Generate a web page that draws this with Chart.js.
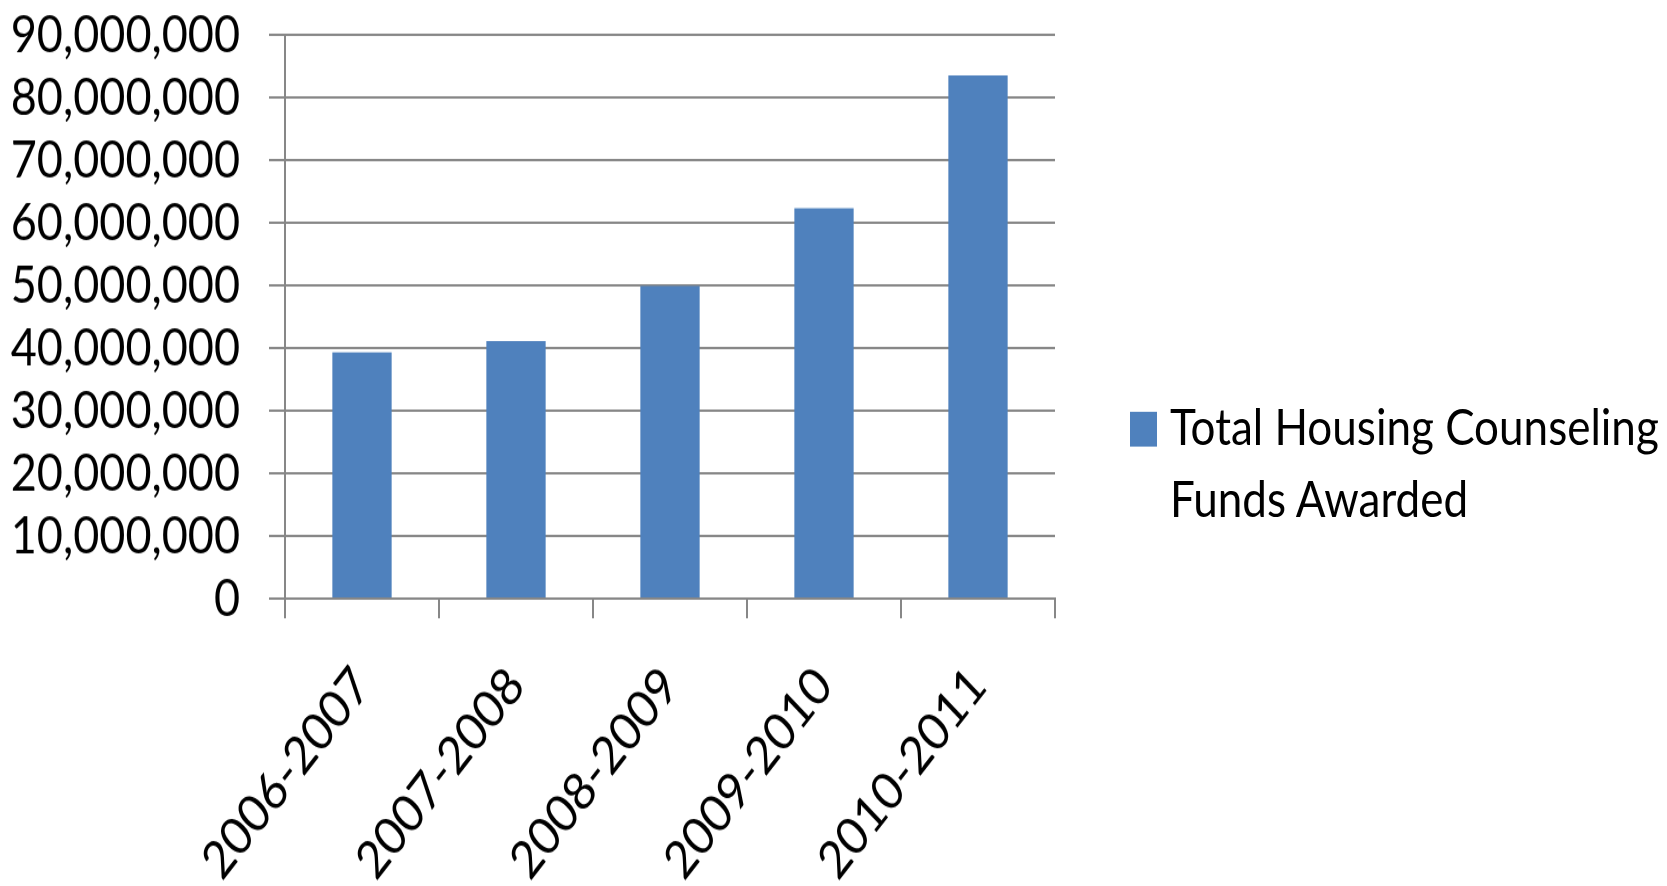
<!DOCTYPE html>
<html>
<head>
<meta charset="utf-8">
<script src="https://cdn.jsdelivr.net/npm/chart.js@4.4.1/dist/chart.umd.min.js"></script>
<style>
  html, body { margin: 0; height: 886px; background: #fff; }
  /* the chart is laid out short and stretched tall, like the exported image */
  .wrap {
    position: relative; width: 1667px; height: 764px;
    transform: scaleY(1.16); transform-origin: 0 0;
  }
  .legend {
    position: absolute; left: 1130px; top: 336px;
    font-family: Lato, "Open Sans", sans-serif;
    font-size: 44px; line-height: 62px; color: #000;
  }
  .legend .swatch {
    position: absolute; left: 0; top: 19px; width: 27px; height: 30px; background: #4f81bd;
  }
  .legend .text { margin-left: 40px; white-space: nowrap; }
</style>
</head>
<body>
<div class="wrap">
  <canvas id="main-canvas" width="1667" height="764"></canvas>
  <div class="legend" id="legend"></div>
</div>
<script>
// funding years and totals awarded
const years = ['2006-2007', '2007-2008', '2008-2009', '2009-2010', '2010-2011'];
const fundsAwarded = [39300000, 41100000, 49900000, 62300000, 83500000];
const seriesName = ['Total Housing Counseling', 'Funds Awarded'];

const yMax = 90000000;
const yStep = 10000000;

const gridGray = '#878787';
const barBlue = '#4f81bd';
const fontFamily = 'Lato, "Open Sans", sans-serif';

// legend sits beside the plot, two lines of text
const legendEl = document.getElementById('legend');
legendEl.innerHTML = '<div class="swatch"></div>' +
    seriesName.map(s => '<div class="text">' + s + '</div>').join('');

const ctx = document.getElementById('main-canvas').getContext('2d');

const myChart = new Chart(ctx, {
    type: 'bar',
    data: {
        labels: years,
        datasets: [{
            label: seriesName.join(' '),
            data: fundsAwarded,
            backgroundColor: barBlue,
            borderWidth: 0,
            categoryPercentage: 1,
            barPercentage: 0.385
        }]
    },
    options: {
        responsive: false,
        animation: false,
        layout: {
            padding: { top: 30, right: 612, bottom: 0, left: 0 }
        },
        plugins: {
            legend: { display: false },
            tooltip: { enabled: false }
        },
        scales: {
            x: {
                grid: {
                    drawOnChartArea: false,
                    color: gridGray,
                    lineWidth: 2,
                    tickLength: 17
                },
                border: { color: gridGray, width: 2 },
                ticks: {
                    autoSkip: false,
                    minRotation: 48,
                    maxRotation: 48,
                    padding: 32,
                    color: '#000',
                    font: { family: fontFamily, size: 45 }
                },
                afterFit: axis => {
                    axis.height = 248;
                    axis.paddingLeft = 0;
                    axis.paddingRight = 0;
                }
            },
            y: {
                min: 0,
                max: yMax,
                grid: {
                    color: gridGray,
                    lineWidth: 2,
                    tickLength: 16
                },
                border: { color: gridGray, width: 2 },
                ticks: {
                    stepSize: yStep,
                    autoSkip: false,
                    padding: 29,
                    color: '#000',
                    font: { family: fontFamily, size: 45 },
                    callback: v => v.toLocaleString('en-US')
                },
                afterFit: axis => {
                    axis.width = 285;
                    axis.paddingTop = 0;
                    axis.paddingBottom = 0;
                }
            }
        }
    }
});
</script>
</body>
</html>
